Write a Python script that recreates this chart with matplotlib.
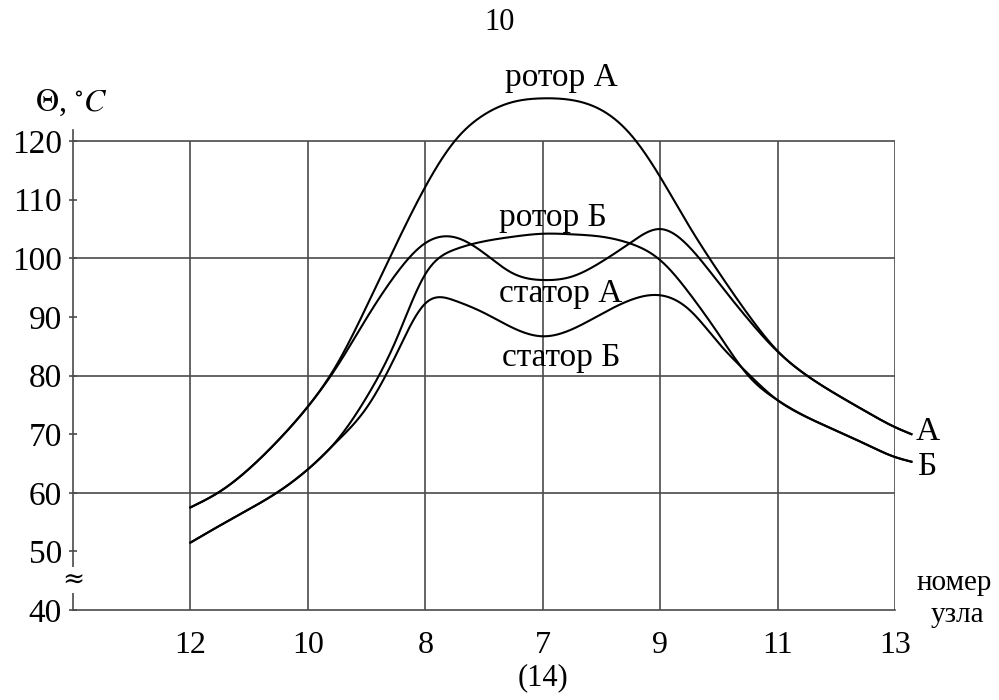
import numpy as np
import matplotlib
matplotlib.use('Agg')
import matplotlib.pyplot as plt

plt.rcParams['font.family'] = ['Liberation Serif', 'DejaVu Serif']
plt.rcParams['mathtext.fontset'] = 'stix'

# node order along the x axis
nodes = ['12', '10', '8', '7', '9', '11', '13']

# temperature curves (x = node index, 1..7)
pos = [1, 1.25, 1.5, 1.75, 2, 2.25, 2.5, 2.75, 3, 3.25, 3.5, 3.75, 4, 4.25, 4.5, 4.75,
       5, 5.25, 5.5, 5.75, 6, 6.25, 6.5, 6.75, 7, 7.14]

rotor_a = [57.5, 60.2, 64.1, 69.0, 74.7, 82.0, 91.8, 102.3, 112.2, 120.0, 124.5, 126.7, 127.3,
           127.0, 125.3, 121.1, 113.9, 105.4, 97.6, 90.4, 84.2, 80.0, 76.8, 73.9, 71.2, 70.0]
stator_a = [57.5, 60.2, 64.1, 69.0, 74.7, 81.6, 89.8, 97.3, 102.6, 103.6, 100.9, 97.4, 96.3,
            96.9, 99.4, 102.7, 105.0, 101.9, 95.8, 89.6, 84.1, 80.0, 76.8, 73.9, 71.2, 70.0]
rotor_b = [51.5, 54.4, 57.2, 60.2, 64.0, 69.0, 76.3, 86.0, 97.3, 101.5, 102.9, 103.7, 104.2,
           104.1, 103.7, 102.5, 99.7, 94.0, 87.0, 80.0, 75.8, 72.9, 70.6, 68.3, 66.1, 65.3]
stator_b = [51.5, 54.4, 57.2, 60.2, 64.0, 68.8, 74.5, 83.5, 92.3, 92.8, 90.7, 88.1, 86.7,
            87.9, 90.5, 92.9, 93.7, 91.2, 85.5, 80.3, 75.8, 72.9, 70.6, 68.3, 66.1, 65.3]


def smooth(x, y, n=800):
    # natural cubic spline through the read points, only for drawing
    x = np.asarray(x, float)
    y = np.asarray(y, float)
    k = len(x)
    h = np.diff(x)
    A = np.zeros((k, k))
    r = np.zeros(k)
    A[0, 0] = A[-1, -1] = 1
    for i in range(1, k - 1):
        A[i, i - 1] = h[i - 1]
        A[i, i] = 2 * (h[i - 1] + h[i])
        A[i, i + 1] = h[i]
        r[i] = 6 * ((y[i + 1] - y[i]) / h[i] - (y[i] - y[i - 1]) / h[i - 1])
    M = np.linalg.solve(A, r)
    xs = np.linspace(x[0], x[-1], n)
    j = np.clip(np.searchsorted(x, xs) - 1, 0, k - 2)
    a = x[j + 1] - xs
    b = xs - x[j]
    hj = h[j]
    ys = (M[j] * a**3 + M[j + 1] * b**3) / (6 * hj) \
        + (y[j] / hj - M[j] * hj / 6) * a + (y[j + 1] / hj - M[j + 1] * hj / 6) * b
    return xs, ys


fig = plt.figure(figsize=(9.99, 7), dpi=100)
ax = fig.add_axes([73 / 999, 90 / 700, 822 / 999, 480 / 700])
ax.set_xlim(0, 7)
ax.set_ylim(40, 121.9)

grid_c = '#4a4a4a'
ax.hlines([60, 80, 100, 120], 0, 7, color=grid_c, lw=1.2, zorder=1)
ax.vlines(range(1, 8), 40, 120, color=grid_c, lw=1.2, zorder=1)

for yy in [rotor_a, stator_a, rotor_b, stator_b]:
    sx, sy = smooth(pos, yy)
    ax.plot(sx, sy, color='black', lw=1.5, zorder=3, clip_on=False)

for s in ['top', 'right']:
    ax.spines[s].set_visible(False)
for s in ['left', 'bottom']:
    ax.spines[s].set_color(grid_c)
    ax.spines[s].set_linewidth(1.2)

ax.set_yticks(range(40, 121, 10))
ax.tick_params(axis='y', direction='inout', length=6, width=1.2, color=grid_c,
               labelsize=24, pad=5)
ax.set_xticks(range(1, 8))
ax.set_xticklabels(nodes)
ax.tick_params(axis='x', length=0, labelsize=23, pad=15)

# curve labels
ax.text(4.16, 130.8, 'ротор А', ha='center', va='center', fontsize=24, clip_on=False)
ax.text(4.09, 106.9, 'ротор Б', ha='center', va='center', fontsize=24)
ax.text(4.15, 93.9, 'статор А', ha='center', va='center', fontsize=24)
ax.text(4.16, 83.0, 'статор Б', ha='center', va='center', fontsize=24)
ax.text(7.28, 70.4, 'А', ha='center', va='center', fontsize=24, clip_on=False)
ax.text(7.27, 64.4, 'Б', ha='center', va='center', fontsize=24, clip_on=False)

# axis break mark
ax.text(0, 45.1, '≈', ha='center', va='center', fontsize=19, zorder=5, clip_on=False,
        family=['DejaVu Serif'],
        bbox=dict(facecolor='white', edgecolor='none', pad=0.5))

fig.text(71 / 999, 1 - 103 / 700, r'$\Theta$, $^{\circ}C$', ha='center', va='center', fontsize=23)
fig.text(500 / 999, 1 - 22 / 700, '10', ha='center', va='center', fontsize=22)
fig.text(543 / 999, 1 - 678 / 700, '(14)', ha='center', va='center', fontsize=22)
fig.text(954 / 999, 1 - 583 / 700, 'номер', ha='center', va='center', fontsize=21)
fig.text(957 / 999, 1 - 615 / 700, 'узла', ha='center', va='center', fontsize=21)

fig.savefig('out.png', dpi=100)
